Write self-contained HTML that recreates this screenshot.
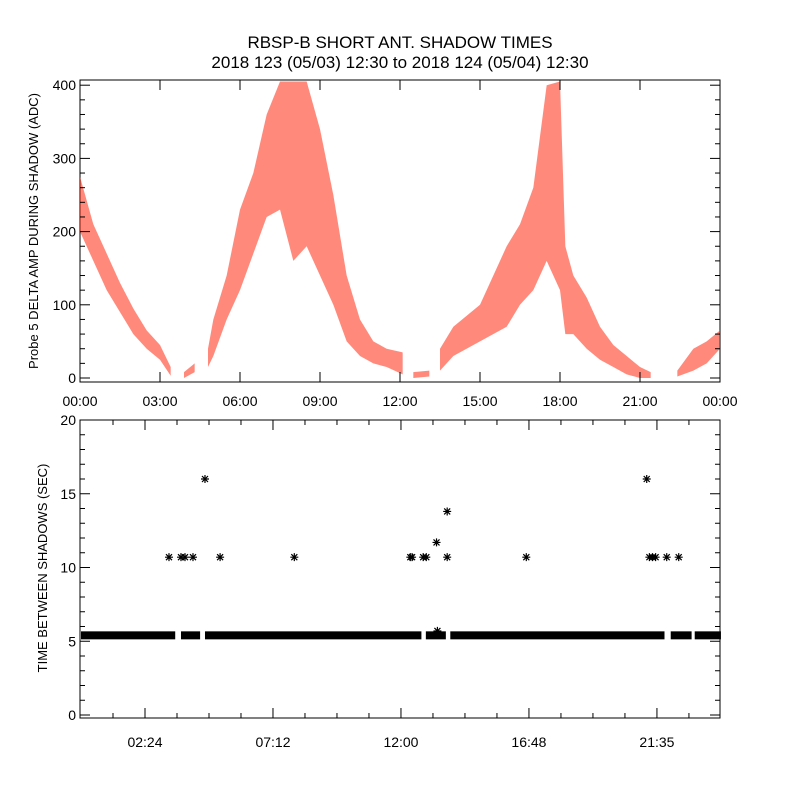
<!DOCTYPE html>
<html><head><meta charset="utf-8"><style>
body{margin:0;background:#fff}
svg text{font-family:"Liberation Sans",sans-serif;fill:#000}
</style></head><body>
<svg id="c" width="800" height="800" viewBox="0 0 800 800" xmlns="http://www.w3.org/2000/svg">
<rect width="800" height="800" fill="#fff"/>
<text x="400" y="48" font-size="17" text-anchor="middle">RBSP-B SHORT ANT. SHADOW TIMES</text>
<text x="400" y="68" font-size="17" text-anchor="middle">2018 123 (05/03) 12:30 to 2018 124 (05/04) 12:30</text>
<g id="topPanel"></g>
<g id="botPanel"></g>
</svg>
<script>
// Top panel: amplitude envelope segments [hour, low, high]
const ampSeg1=[[0,200,275],[0.5,160,210],[1,120,170],[1.5,90,130],[2,60,95],[2.5,40,65],[3,25,45],[3.4,3,15]];
const ampSeg2=[[3.9,0,8],[4.3,8,20]];
const ampSeg3=[[4.8,15,40],[5,30,80],[5.5,80,140],[6,120,230],[6.5,170,280],[7,220,360],[7.5,230,405],[8,160,405],[8.5,180,405],[9,140,340],[9.5,100,250],[10,50,140],[10.5,30,80],[11,20,50],[11.5,15,40],[12.1,5,35]];
const ampSeg4=[[12.5,0,8],[13.1,2,10]];
const ampSeg5=[[13.5,10,40],[14,30,70],[15,50,100],[16,70,180],[16.5,100,210],[17,120,260],[17.5,160,400],[18,120,405],[18.2,60,180],[18.5,60,140],[19,40,110],[19.5,25,70],[20,15,45],[20.5,5,30],[21,0,15],[21.4,0,8]];
const ampSeg6=[[22.4,2,10],[23,10,40],[23.5,20,50],[24,40,65]];
const topXTicks=["00:00","03:00","06:00","09:00","12:00","15:00","18:00","21:00","00:00"];
const topYTicks=[0,100,200,300,400];
// Bottom panel
const baseValue=5.4;
const baseSegs=[[0,212],[225,268],[279,766],[776,821],[831,1313],[1327,1374],[1381,1440]];
const outT=[198,225,234,252,279,313,480,741,745,770,777,800,824,824,1002,1273,1279,1286,1293,1318,1345,802];
const outV=[10.7,10.7,10.7,10.7,16,10.7,10.7,10.7,10.7,10.7,10.7,11.7,13.8,10.7,10.7,16,10.7,10.7,10.7,10.7,10.7,5.7];
const botXTicks=["02:24","07:12","12:00","16:48","21:35"];
const botYTicks=[0,5,10,15,20];

const NS="http://www.w3.org/2000/svg";
function mk(p,t,a){const e=document.createElementNS(NS,t);for(const k in a)e.setAttribute(k,a[k]);p.appendChild(e);return e;}
const topG=document.getElementById('topPanel'), botG=document.getElementById('botPanel');
const tx=h=>80+h/24*640, ty=v=>378-v*0.732;
const bx=m=>81+m*0.4444, by=v=>715-v*14.75;

let r=mk(topG,'rect',{x:80,y:80,width:640,height:302,fill:'none',stroke:'#000','stroke-width':1});


[ampSeg1,ampSeg2,ampSeg3,ampSeg4,ampSeg5,ampSeg6].forEach((s,i)=>{
  const pts=s.map(d=>tx(d[0])+','+ty(d[2])).concat(s.slice().reverse().map(d=>tx(d[0])+','+ty(d[1])));
  const p=mk(topG,'polygon',{points:pts.join(' '),fill:'#ff2a10','fill-opacity':0.55});
  
  
});
topXTicks.forEach((t,i)=>{
  const x=80+i*80;
  mk(topG,'line',{x1:x,x2:x,y1:382,y2:372,stroke:'#000'});
  mk(topG,'line',{x1:x,x2:x,y1:80,y2:90,stroke:'#000'});
  const e=mk(topG,'text',{x:x,y:406,'font-size':14,'text-anchor':'middle'});e.textContent=t;
  
  
});
for(let v=0;v<=400;v+=20){const y=ty(v),L=v%100?5:10;
  mk(topG,'line',{x1:80,x2:80+L,y1:y,y2:y,stroke:'#000'});mk(topG,'line',{x1:720,x2:720-L,y1:y,y2:y,stroke:'#000'});}
topYTicks.forEach(v=>{const e=mk(topG,'text',{x:76,y:ty(v)+5,'font-size':14,'text-anchor':'end'});e.textContent=v;
  
  });
let yt=mk(topG,'text',{x:0,y:0,'font-size':13,'text-anchor':'middle',transform:'translate(38,231) rotate(-90)'});
yt.textContent='Probe 5 DELTA AMP DURING SHADOW (ADC)';



r=mk(botG,'rect',{x:80,y:420,width:640,height:298,fill:'none',stroke:'#000','stroke-width':1});


baseSegs.forEach(s=>{
  const e=mk(botG,'rect',{x:bx(s[0]),y:by(baseValue)-4,width:bx(s[1])-bx(s[0]),height:8,fill:'#000'});
  
  
});
outT.forEach((t,i)=>{
  const x=bx(t),y=by(outV[i]);
  const g=mk(botG,'path',{d:`M${x-4} ${y}H${x+4}M${x} ${y-4}V${y+4}M${x-3} ${y-3}L${x+3} ${y+3}M${x-3} ${y+3}L${x+3} ${y-3}`,stroke:'#000','stroke-width':1.2});
  
  
});
for(let m=72;m<1440;m+=72){const x=bx(m),L=(m%288==144)?10:5;
  mk(botG,'line',{x1:x,x2:x,y1:718,y2:718-L,stroke:'#000'});mk(botG,'line',{x1:x,x2:x,y1:420,y2:420+L,stroke:'#000'});}
botXTicks.forEach((t,i)=>{const e=mk(botG,'text',{x:bx(144+i*288),y:747,'font-size':14,'text-anchor':'middle'});e.textContent=t;
  
  });
for(let v=0;v<=20;v+=1){const y=by(v),L=v%5?5:10;
  mk(botG,'line',{x1:80,x2:80+L,y1:y,y2:y,stroke:'#000'});mk(botG,'line',{x1:720,x2:720-L,y1:y,y2:y,stroke:'#000'});}
botYTicks.forEach(v=>{const e=mk(botG,'text',{x:76,y:by(v)+5,'font-size':14,'text-anchor':'end'});e.textContent=v;
  
  });
yt=mk(botG,'text',{x:0,y:0,'font-size':13,'text-anchor':'middle',transform:'translate(47,568) rotate(-90)'});
yt.textContent='TIME BETWEEN SHADOWS (SEC)';


</script>
</body></html>
